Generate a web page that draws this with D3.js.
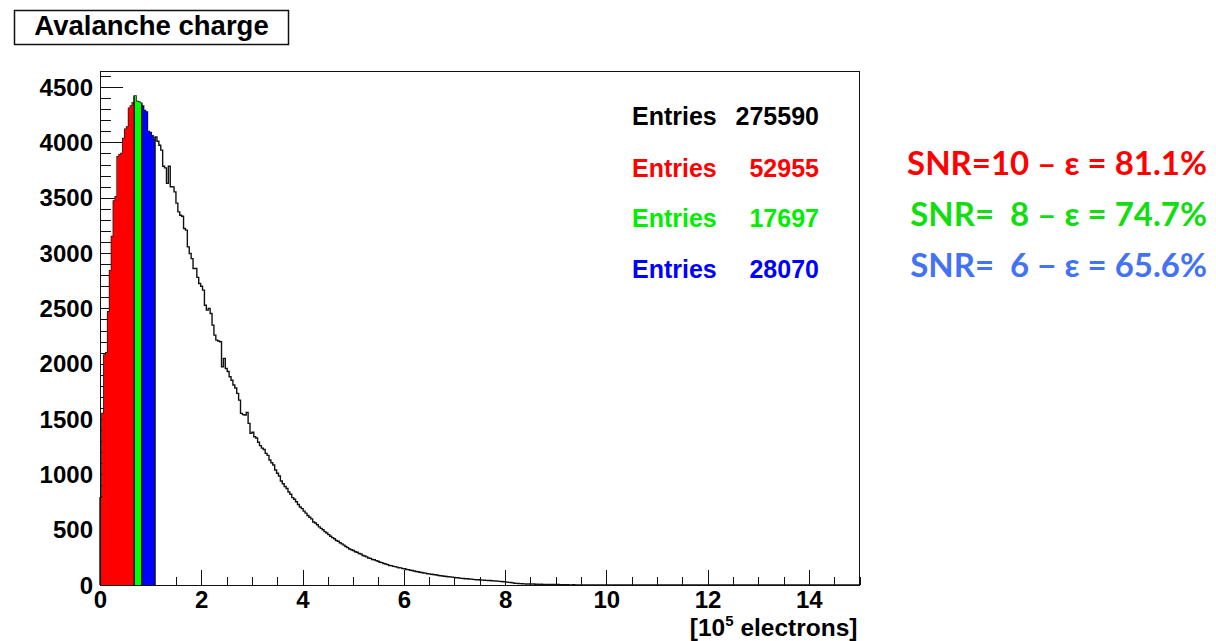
<!DOCTYPE html>
<html>
<head>
<meta charset="utf-8">
<script src="https://cdn.jsdelivr.net/npm/d3@7/dist/d3.min.js"></script>
<style>
  html, body { margin: 0; padding: 0; background: #ffffff; }
  svg { display: block; }
  .root-text { font-family: "Liberation Sans", Arial, Helvetica, sans-serif; font-weight: bold; }
  .note { font-family: Lato, "Open Sans", sans-serif; font-weight: bold; white-space: pre; }
</style>
</head>
<body>
<svg id="chart" width="1216" height="641"></svg>
<script>
// Histogram binning: 400 bins on [0, 15] (units of 1e5 electrons)
const xRange = [0, 15];
const nBins = 400;

// Bin contents of the avalanche charge spectrum (bins not listed are empty)
const counts = [
  // 0.000 - 0.675
  790, 1550, 2080, 2100, 2470, 2840, 3150, 3470, 3510, 3870, 3890, 3900, 4035, 4120, 4140, 4310, 4330, 4360,
  // 0.675 - 0.825
  4420, 4370, 4365, 4355,
  // 0.825 - 1.0875
  4330, 4290, 4275, 4100, 4090, 4060, 4020,
  // 1.0875 - 3.225
  4050, 4010, 3975, 3930, 3785, 3770, 3630, 3785, 3600, 3598,
  3553, 3451, 3372, 3342, 3333, 3222, 3207, 3056, 2996, 2950,
  2861, 2860, 2780, 2725, 2700, 2665, 2529, 2484, 2500, 2454,
  2349, 2258, 2213, 2205, 2198, 1972, 2048, 1957, 1930, 1882,
  1850, 1807, 1780, 1732, 1671, 1551, 1540, 1536, 1560, 1461,
  1370, 1380, 1340, 1328, 1290, 1260, 1237,
  // tail
  1225, 1190, 1172, 1130, 1105, 1085, 1040, 1010, 985, 940,
  915, 890, 872, 840, 820, 790, 775, 752, 728, 705,
  690, 668, 650, 628, 612, 598, 570, 560, 545, 525,
  512, 500, 482, 470, 455, 440, 428, 418, 402, 395,
  382, 372, 360, 348, 338, 326, 318, 312, 300, 296,
  285, 280, 266, 262, 254, 244, 241, 230, 228, 220,
  214, 206, 202, 194, 190, 184, 176, 175, 168, 166,
  162, 156, 155, 148, 147, 140, 139, 133, 131, 126,
  122, 120, 115, 113, 109, 107, 102, 101, 97, 95,
  92, 90, 86, 84, 82, 79, 77, 74, 73, 71,
  69, 66, 65, 62, 60, 59, 57, 56, 54, 53,
  51, 49, 48, 47, 45, 44, 43, 42, 41, 40,
  38, 37, 36, 35, 33, 32, 30,
  28, 26, 24, 22, 19, 16, 15, 14, 12, 11, 10, 9, 9,
  9, 8, 9, 7, 8, 6, 7, 6, 5, 6, 5, 4, 5, 4, 3, 4, 3, 3, 2, 3, 2,
  1, 0, 2, 0, 1, 1, 0, 0, 1, 0, 1, 0, 0, 0, 0, 0, 1
];

// Bin ranges [first, last) filled for each SNR selection
const cutFirstBin = [0, 18, 22];
const cutLastBin = [18, 22, 29];
const cutColors = ["#ff0000", "#00ff00", "#0000ff"];

// Statistics box
const entryLabels = ["Entries", "Entries", "Entries", "Entries"];
const entryValues = [275590, 52955, 17697, 28070];
const entryColors = ["#000000", "#ff0000", "#00ee00", "#0000ff"];

// Efficiency notes
const snrValues = ["10", "  8", "  6"];
const snrDashes = ["–", "–", "−"];
const effValues = [81.1, 74.7, 65.6];
const noteColors = ["#ff0000", "#11dd11", "#4472f4"];

// Axis ticks
const xMajorTicks = [0, 2, 4, 6, 8, 10, 12, 14];
const xMinorTicks = d3.range(0, 15.001, 0.5);
const yMajorTicks = d3.range(0, 4501, 500);
const yMinorTicks = d3.range(0, 4601, 100);

const titleText = "Avalanche charge";

// ---------------------------------------------------------------
const svg = d3.select("#chart");
const frame = { left: 100, right: 859.5, top: 71.5, bottom: 585 };
const labelFont = "Liberation Sans, Arial, sans-serif";

const binWidth = (xRange[1] - xRange[0]) / nBins;
const bins = d3.range(nBins).map(i => ({
  lo: xRange[0] + i * binWidth,
  hi: xRange[0] + (i + 1) * binWidth,
  n: i < counts.length ? counts[i] : 0
}));

const yMax = 1.05 * d3.max(counts);
const x = d3.scaleLinear().domain(xRange).range([frame.left, frame.right]);
const y = d3.scaleLinear().domain([0, yMax]).range([frame.bottom, frame.top]);

const W = frame.right - frame.left, H = frame.bottom - frame.top;

// Minor ticks (inside the frame)
svg.append("g")
  .attr("transform", `translate(${frame.left},0)`)
  .call(d3.axisLeft(y).tickValues(yMinorTicks).tickSizeInner(-0.015 * W).tickSizeOuter(0).tickFormat(""))
  .call(g => g.select(".domain").remove())
  .selectAll("line").attr("stroke", "#111").attr("shape-rendering", "crispEdges");

svg.append("g")
  .attr("transform", `translate(0,${frame.bottom})`)
  .call(d3.axisBottom(x).tickValues(xMinorTicks).tickSizeInner(-0.015 * H).tickSizeOuter(0).tickFormat(""))
  .call(g => g.select(".domain").remove())
  .selectAll("line").attr("stroke", "#111").attr("shape-rendering", "crispEdges");

// Major ticks with labels
const yAxis = svg.append("g")
  .attr("transform", `translate(${frame.left},0)`)
  .call(d3.axisLeft(y).tickValues(yMajorTicks).tickSizeInner(-0.03 * W).tickSizeOuter(0).tickPadding(7).tickFormat(d3.format("d")))
  .call(g => g.select(".domain").remove());
yAxis.selectAll("line").attr("stroke", "#111").attr("shape-rendering", "crispEdges");
yAxis.selectAll("text").attr("font-size", 24).attr("font-family", labelFont)
  .attr("font-weight", "bold").attr("fill", "#000").attr("dy", "0.34em");

const xAxis = svg.append("g")
  .attr("transform", `translate(0,${frame.bottom})`)
  .call(d3.axisBottom(x).tickValues(xMajorTicks).tickSizeInner(-0.03 * H).tickSizeOuter(0).tickPadding(6).tickFormat(d3.format("d")))
  .call(g => g.select(".domain").remove());
xAxis.selectAll("line").attr("stroke", "#111").attr("shape-rendering", "crispEdges");
xAxis.selectAll("text").attr("font-size", 24).attr("font-family", labelFont)
  .attr("font-weight", "bold").attr("fill", "#000");

// Histogram outline
const stepPts = bins.map(b => [b.lo, b.n]).concat([[xRange[1], 0]]);
const stepLine = d3.line().x(d => x(d[0])).y(d => y(d[1])).curve(d3.curveStepAfter);
svg.append("path")
  .attr("d", stepLine([[xRange[0], 0]].concat(stepPts)))
  .attr("fill", "none")
  .attr("stroke", "#111")
  .attr("stroke-width", 1.4);

// Filled SNR selections
const stepArea = d3.area().x(d => x(d[0])).y0(y(0)).y1(d => y(d[1])).curve(d3.curveStepAfter);
cutFirstBin.forEach((first, k) => {
  const last = cutLastBin[k];
  const pts = bins.slice(first, last).map(b => [b.lo, b.n]);
  pts.push([bins[last - 1].hi, bins[last - 1].n]);
  svg.append("path")
    .attr("d", stepArea(pts))
    .attr("fill", cutColors[k]);
});

// Edges between the filled selections
cutLastBin.forEach(last => {
  const hEdge = Math.max(bins[last - 1].n, bins[last] ? bins[last].n : 0);
  svg.append("line")
    .attr("x1", x(bins[last - 1].hi)).attr("x2", x(bins[last - 1].hi))
    .attr("y1", y(0)).attr("y2", y(hEdge))
    .attr("stroke", "#111").attr("stroke-width", 1.4);
});

// Frame
svg.append("rect")
  .attr("x", frame.left).attr("y", frame.top)
  .attr("width", W).attr("height", H)
  .attr("fill", "none").attr("stroke", "#111").attr("stroke-width", 1)
  .attr("shape-rendering", "crispEdges");

// Axis title
const xTitle = svg.append("text")
  .attr("class", "root-text")
  .attr("x", frame.right - 2).attr("y", 636)
  .attr("text-anchor", "end")
  .attr("font-size", 24.5);
xTitle.append("tspan").text("[10");
xTitle.append("tspan").attr("font-size", 15).attr("dy", -10).text("5");
xTitle.append("tspan").attr("dy", 10).text(" electrons]");

// Title box
svg.append("rect")
  .attr("x", 14.5).attr("y", 10.5).attr("width", 274).attr("height", 34)
  .attr("fill", "#fff").attr("stroke", "#111").attr("stroke-width", 1.5);
svg.append("text")
  .attr("class", "root-text")
  .attr("x", 151.5).attr("y", 35)
  .attr("text-anchor", "middle")
  .attr("font-size", 27.5)
  .text(titleText);

// Statistics box entries
const statRowY = [125, 177, 227, 278];
entryValues.forEach((v, i) => {
  svg.append("text").attr("class", "root-text")
    .attr("x", 632).attr("y", statRowY[i]).attr("font-size", 25)
    .attr("fill", entryColors[i]).text(entryLabels[i]);
  svg.append("text").attr("class", "root-text")
    .attr("x", 819).attr("y", statRowY[i]).attr("font-size", 25)
    .attr("text-anchor", "end")
    .attr("fill", entryColors[i]).text(v);
});

// Efficiency notes
const noteY = [175, 226, 277];
effValues.forEach((e, i) => {
  svg.append("text").attr("class", "note")
    .attr("x", 1207).attr("y", noteY[i])
    .attr("text-anchor", "end")
    .attr("font-size", 33)
    .attr("fill", noteColors[i])
    .text(`SNR=${snrValues[i]} ${snrDashes[i]} ε = ${e.toFixed(1)}%`);
});
</script>
</body>
</html>
